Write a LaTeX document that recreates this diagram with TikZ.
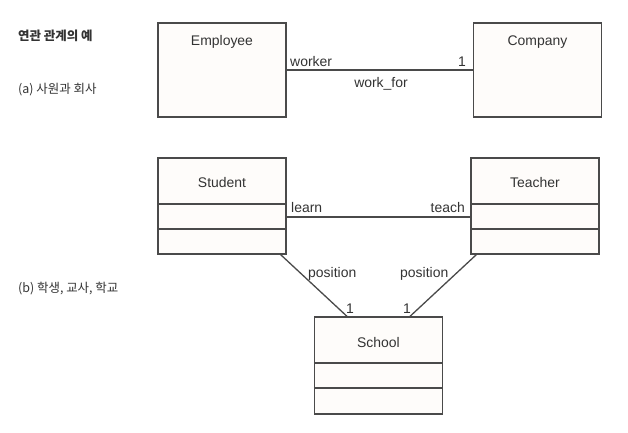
\documentclass[tikz,border=0pt]{standalone}
\usepackage{fontspec}
\setmainfont{Liberation Sans}
\newfontfamily\krfont{Noto Sans CJK KR}
\definecolor{boxline}{HTML}{4A4A4A}
\definecolor{boxfill}{HTML}{FEFCFA}
\definecolor{txt}{HTML}{333333}
\begin{document}
\begin{tikzpicture}[x=1bp,y=-1bp,
  classbox/.style={draw=boxline,fill=boxfill,line width=1.3bp,minimum width=128bp,inner sep=0pt},
  cname/.style={anchor=base,inner sep=0pt,font=\fontsize{14}{16}\selectfont,text=txt},
  lbl/.style={inner sep=0pt,font=\fontsize{14}{16}\selectfont,text=txt},
  kr/.style={anchor=base west,inner sep=0pt,font=\krfont\fontsize{12.5}{15}\selectfont,text=txt},
  conn/.style={draw=boxline,line width=1.3bp}]
\useasboundingbox (0,0) rectangle (628,432);
\fill[white] (0,0) rectangle (628,432);
% Korean labels
\node[kr,font=\krfont\bfseries\fontsize{12.5}{15}\selectfont] (title) at (18,40) {연관 관계의 예};
\node[kr] (capa) at (18,93) {(a) 사원과 회사};
\node[kr] (capb) at (18,292) {(b) 학생, 교사, 학교};
% (a)
\node[classbox,minimum height=94bp] (emp) at (222,70) {};
\node[classbox,minimum height=94bp] (comp) at (537.5,70) {};
\node[cname] (empn) at (222,45) {Employee};
\node[cname] (compn) at (537.5,45) {Company};
\draw[conn] (emp) -- (comp);
\node[lbl,anchor=base west] (worker) at (290,66) {worker};
\node[lbl,anchor=base east] (one1) at (466,66) {1};
\node[lbl,anchor=base] (wf) at (381,87) {work\_for};
% (b)
\node[classbox,minimum height=96bp] (stu) at (222,206) {};
\node[classbox,minimum height=96bp] (tea) at (535,206) {};
\node[classbox,minimum height=97bp] (sch) at (378.5,365.5) {};
\node[cname] (stun) at (222,187) {Student};
\node[cname] (tean) at (535,187) {Teacher};
\node[cname] (schn) at (378.5,347) {School};
\foreach \b in {stu,tea}{
  \draw[conn] (\b.west |- 0,204) -- (\b.east |- 0,204);
  \draw[conn] (\b.west |- 0,229) -- (\b.east |- 0,229);
}
\draw[conn] (sch.west |- 0,363) -- (sch.east |- 0,363);
\draw[conn] (sch.west |- 0,388) -- (sch.east |- 0,388);
\draw[conn] ([yshift=-11bp]stu.east) -- ([yshift=-11bp]tea.west);
\draw[conn] ([xshift=-6bp]stu.south east) -- ([xshift=-31.5bp]sch.north);
\draw[conn] ([xshift=6bp]tea.south west) -- ([xshift=31.5bp]sch.north);
\node[lbl,anchor=base west] (learn) at (291,212) {learn};
\node[lbl,anchor=base east] (teach) at (465,212) {teach};
\node[lbl,anchor=base west] (pos1) at (308,277) {position};
\node[lbl,anchor=base west] (pos2) at (400,277) {position};
\node[lbl,anchor=base] (one2) at (350,313) {1};
\node[lbl,anchor=base] (one3) at (407,313) {1};
\end{tikzpicture}
\end{document}
